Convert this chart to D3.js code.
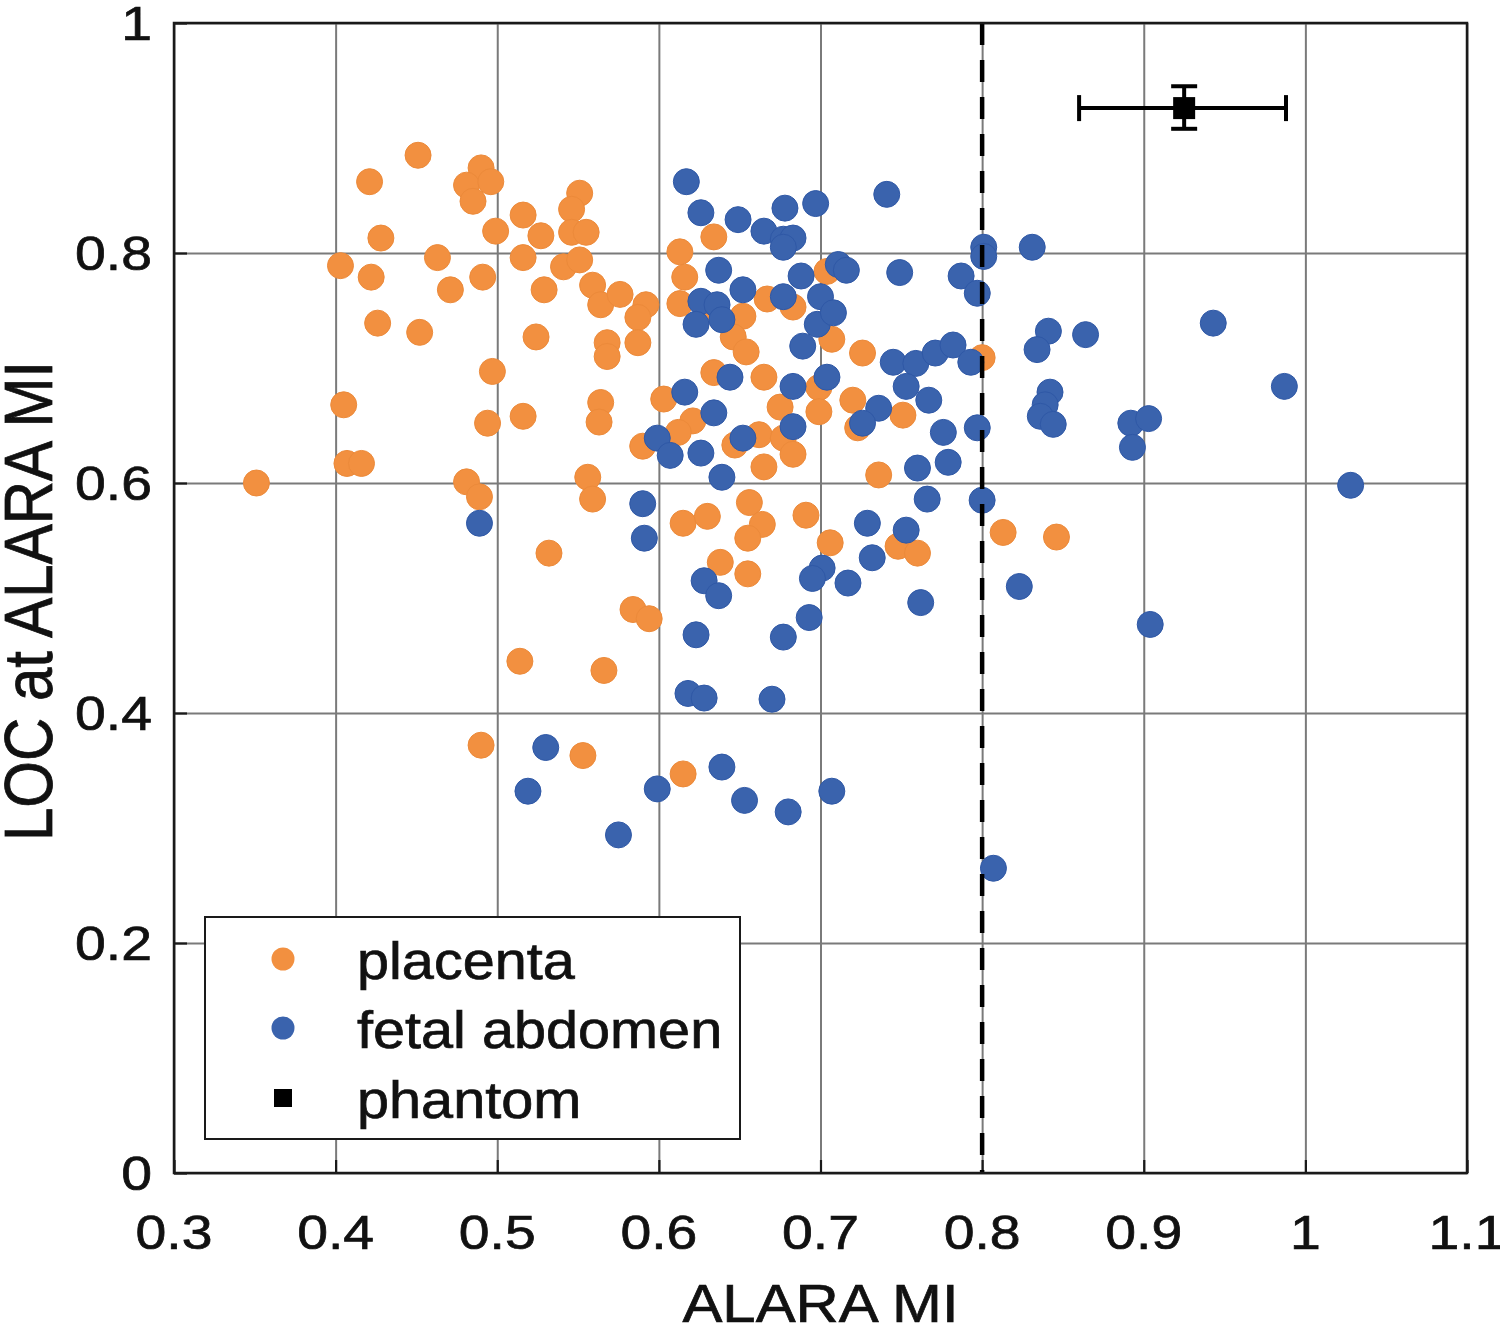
<!DOCTYPE html>
<html>
<head>
<meta charset="utf-8">
<script src="https://cdn.jsdelivr.net/npm/d3@7"></script>
<style>
  body { margin: 0; background: #fff; }
  text { font-family: "Liberation Sans", Arial, Helvetica, sans-serif; fill: #111; stroke: #111; stroke-width: 0.7px; }
</style>
</head>
<body>
<div id="chart"></div>
<script>
// ALARA MI vs LOC at ALARA MI
const placenta = [
  [0.451,0.885],[0.421,0.862],[0.490,0.874],[0.481,0.859],[0.496,0.862],[0.485,0.845],
  [0.516,0.833],[0.499,0.819],[0.428,0.813],[0.463,0.796],[0.403,0.789],[0.422,0.779],
  [0.491,0.779],[0.471,0.768],[0.516,0.796],[0.426,0.739],[0.452,0.731],[0.497,0.697],
  [0.405,0.668],[0.516,0.658],[0.494,0.652],[0.524,0.727],[0.527,0.815],[0.351,0.600],
  [0.407,0.617],[0.416,0.617],[0.481,0.601],[0.489,0.588],[0.514,0.445],
  [0.551,0.852],[0.546,0.838],[0.546,0.818],[0.555,0.818],[0.541,0.788],[0.551,0.794],
  [0.529,0.768],[0.559,0.772],[0.564,0.755],[0.576,0.764],[0.592,0.755],[0.587,0.744],
  [0.568,0.722],[0.568,0.710],[0.587,0.722],
  [0.634,0.814],[0.613,0.801],[0.616,0.779],[0.613,0.756],[0.629,0.753],[0.667,0.760],
  [0.683,0.753],[0.652,0.745],[0.646,0.727],[0.654,0.714],[0.665,0.692],[0.634,0.696],
  [0.603,0.673],[0.621,0.654],[0.704,0.784],[0.707,0.725],[0.699,0.683],[0.675,0.666],
  [0.564,0.670],[0.563,0.653],
  [0.800,0.709],[0.726,0.713],[0.720,0.672],[0.751,0.659],
  [0.590,0.632],[0.612,0.644],[0.647,0.633],[0.662,0.642],[0.677,0.639],[0.683,0.625],
  [0.665,0.614],[0.556,0.605],[0.559,0.586],[0.532,0.539],[0.615,0.565],[0.630,0.571],
  [0.656,0.583],[0.664,0.564],[0.655,0.552],[0.691,0.572],[0.638,0.531],[0.655,0.521],
  [0.584,0.490],[0.594,0.482],[0.566,0.437],[0.706,0.548],
  [0.723,0.648],[0.736,0.607],[0.748,0.545],[0.760,0.539],[0.813,0.557],[0.846,0.553],
  [0.490,0.372],[0.553,0.363],[0.615,0.347],[0.699,0.662]
];

const fetalAbdomen = [
  [0.617,0.862],[0.626,0.835],[0.649,0.829],[0.678,0.839],[0.697,0.843],[0.665,0.819],
  [0.677,0.812],[0.683,0.813],[0.677,0.805],[0.637,0.785],[0.688,0.780],[0.652,0.768],
  [0.677,0.762],[0.700,0.762],[0.626,0.758],[0.636,0.755],[0.623,0.738],[0.639,0.742],
  [0.698,0.738],[0.689,0.719],[0.644,0.692],[0.683,0.684],[0.616,0.679],[0.634,0.661],
  [0.704,0.692],[0.741,0.851],[0.801,0.805],[0.801,0.797],[0.831,0.805],[0.711,0.790],
  [0.716,0.785],[0.749,0.783],[0.787,0.780],[0.797,0.765],[0.708,0.748],[0.841,0.732],
  [0.864,0.729],[0.834,0.716],[0.745,0.705],[0.759,0.704],[0.771,0.713],[0.782,0.720],
  [0.793,0.705],[0.753,0.684],[0.767,0.672],[0.736,0.665],[0.726,0.652],[0.797,0.648],
  [0.842,0.679],[0.839,0.668],[0.836,0.658],[0.844,0.651],[0.892,0.652],[0.943,0.739],
  [0.903,0.656],[0.893,0.631],[0.987,0.684],[1.028,0.598],[0.823,0.510],[0.904,0.477],
  [0.776,0.644],[0.760,0.613],[0.779,0.618],[0.766,0.586],[0.800,0.585],[0.729,0.565],
  [0.753,0.559],[0.732,0.535],[0.701,0.526],[0.717,0.513],[0.762,0.496],
  [0.599,0.639],[0.607,0.624],[0.626,0.626],[0.639,0.605],[0.683,0.649],[0.652,0.639],
  [0.590,0.582],[0.591,0.552],[0.628,0.515],[0.637,0.502],[0.623,0.468],[0.677,0.466],
  [0.693,0.483],[0.695,0.517],[0.618,0.417],[0.628,0.413],[0.670,0.412],[0.489,0.565],
  [0.530,0.370],[0.519,0.332],[0.575,0.294],[0.599,0.334],[0.639,0.353],[0.653,0.324],
  [0.680,0.314],[0.707,0.332],[0.807,0.265]
];

// phantom: [MI, LOC], with MI range and LOC range
const phantom = [0.925, 0.926];
const phantomMIRange = [0.860, 0.988];
const phantomLOCRange = [0.908, 0.945];

const alaraLimit = 0.8;

const xTicks = [0.3, 0.4, 0.5, 0.6, 0.7, 0.8, 0.9, 1.0, 1.1];
const yTicks = [0, 0.2, 0.4, 0.6, 0.8, 1.0];
const xTickLabels = ['0.3','0.4','0.5','0.6','0.7','0.8','0.9','1','1.1'];
const yTickLabels = ['0','0.2','0.4','0.6','0.8','1'];

const legendItems = ['placenta', 'fetal abdomen', 'phantom'];

var orange = '#f29040';
var blue = '#3a63ad';
var stretch = 1.13; // glyphs in the figure are a bit wide

var margin = {top: 23, right: 33, bottom: 156, left: 174};
var fullWidth = 1500, fullHeight = 1329;
var width = fullWidth - margin.left - margin.right;
var height = fullHeight - margin.top - margin.bottom;

var xScale = d3.scaleLinear().domain([0.3, 1.1]).range([0, width]);
var yScale = d3.scaleLinear().domain([0, 1]).range([height, 0]);

var root = d3.select('#chart').append('svg')
  .attr('width', fullWidth)
  .attr('height', fullHeight);

root.append('rect').attr('width', fullWidth).attr('height', fullHeight).attr('fill', '#fff');

var svg = root.append('g')
  .attr('transform', `translate(${margin.left},${margin.top})`);

// grid
svg.append('g')
  .attr('class', 'grid x')
  .attr('transform', `translate(0,${height})`)
  .call(d3.axisBottom(xScale).tickValues(xTicks).tickSize(-height).tickFormat(''))
  .call(g => g.select('.domain').remove())
  .selectAll('line').attr('stroke', '#7a7a7a').attr('stroke-width', 2);

svg.append('g')
  .attr('class', 'grid y')
  .call(d3.axisLeft(yScale).tickValues(yTicks).tickSize(-width).tickFormat(''))
  .call(g => g.select('.domain').remove())
  .selectAll('line').attr('stroke', '#7a7a7a').attr('stroke-width', 2);

// inward ticks
svg.append('g')
  .attr('transform', `translate(0,${height})`)
  .call(d3.axisBottom(xScale).tickValues(xTicks).tickSize(-13).tickFormat(''))
  .call(g => g.select('.domain').remove())
  .selectAll('line').attr('stroke', '#1a1a1a').attr('stroke-width', 2.2);

svg.append('g')
  .call(d3.axisLeft(yScale).tickValues(yTicks).tickSize(-13).tickFormat(''))
  .call(g => g.select('.domain').remove())
  .selectAll('line').attr('stroke', '#1a1a1a').attr('stroke-width', 2.2);

// data
svg.append('g').attr('class', 'placenta')
  .selectAll('circle')
  .data(placenta)
  .enter().append('circle')
  .attr('cx', d => xScale(d[0]))
  .attr('cy', d => yScale(d[1]))
  .attr('r', 13)
  .attr('fill', orange)
  .attr('stroke', '#ec8a3a')
  .attr('stroke-width', 1);

svg.append('g').attr('class', 'fetal')
  .selectAll('circle')
  .data(fetalAbdomen)
  .enter().append('circle')
  .attr('cx', d => xScale(d[0]))
  .attr('cy', d => yScale(d[1]))
  .attr('r', 13)
  .attr('fill', blue)
  .attr('stroke', '#2f58a6')
  .attr('stroke-width', 1);

// ALARA limit
svg.append('line')
  .attr('x1', xScale(alaraLimit)).attr('x2', xScale(alaraLimit))
  .attr('y1', 0).attr('y2', height)
  .attr('stroke', '#000')
  .attr('stroke-width', 4.5)
  .attr('stroke-dasharray', '22,15');

// phantom with error bars
var ph = svg.append('g').attr('class', 'phantom')
  .attr('stroke', '#000').attr('stroke-width', 4);
var px = xScale(phantom[0]), py = yScale(phantom[1]);
ph.append('line')
  .attr('x1', xScale(phantomMIRange[0])).attr('x2', xScale(phantomMIRange[1]))
  .attr('y1', py).attr('y2', py);
[phantomMIRange[0], phantomMIRange[1]].forEach(v => {
  ph.append('line')
    .attr('x1', xScale(v)).attr('x2', xScale(v))
    .attr('y1', py - 13).attr('y2', py + 13);
});
ph.append('line')
  .attr('x1', px).attr('x2', px)
  .attr('y1', yScale(phantomLOCRange[0])).attr('y2', yScale(phantomLOCRange[1]));
[phantomLOCRange[0], phantomLOCRange[1]].forEach(v => {
  ph.append('line')
    .attr('x1', px - 13).attr('x2', px + 13)
    .attr('y1', yScale(v)).attr('y2', yScale(v));
});
ph.append('rect')
  .attr('x', px - 11).attr('y', py - 11)
  .attr('width', 22).attr('height', 22)
  .attr('fill', '#000').attr('stroke', 'none');

// box
svg.append('rect')
  .attr('width', width).attr('height', height)
  .attr('fill', 'none')
  .attr('stroke', '#1a1a1a')
  .attr('stroke-width', 2.5);

var addText = (parent, x, y, str, size, anchor) => {
  return parent.append('text')
    .attr('transform', `translate(${x},${y}) scale(${stretch},1)`)
    .attr('text-anchor', anchor)
    .style('font-size', size + 'px')
    .text(str);
};

// tick labels
xTicks.forEach((t, i) => {
  addText(svg, xScale(t), height + 76, xTickLabels[i], 49, 'middle');
});
yTicks.forEach((t, i) => {
  addText(svg, -22, yScale(t) + 17, yTickLabels[i], 49, 'end');
});

// axis titles
addText(root, margin.left + width / 2, 1322, 'ALARA MI', 53, 'middle');
root.append('text')
  .attr('transform', `translate(52,${margin.top + height / 2 + 3}) scale(${stretch},1) rotate(-90)`)
  .attr('text-anchor', 'middle')
  .style('font-size', '60px')
  .text('LOC at ALARA MI');

// legend
var lg = root.append('g').attr('class', 'legend');
lg.append('rect')
  .attr('x', 205).attr('y', 917)
  .attr('width', 535).attr('height', 222)
  .attr('fill', '#fff')
  .attr('stroke', '#1a1a1a')
  .attr('stroke-width', 2);

var rowY = [959, 1028, 1098];
lg.append('circle').attr('cx', 283).attr('cy', rowY[0]).attr('r', 11.5).attr('fill', orange);
lg.append('circle').attr('cx', 283).attr('cy', rowY[1]).attr('r', 11.5).attr('fill', blue);
lg.append('rect').attr('x', 274).attr('y', rowY[2] - 9).attr('width', 18).attr('height', 18).attr('fill', '#000');
legendItems.forEach((name, i) => {
  addText(lg, 357, rowY[i] + 20, name, 51, 'start');
});
</script>
</body>
</html>
